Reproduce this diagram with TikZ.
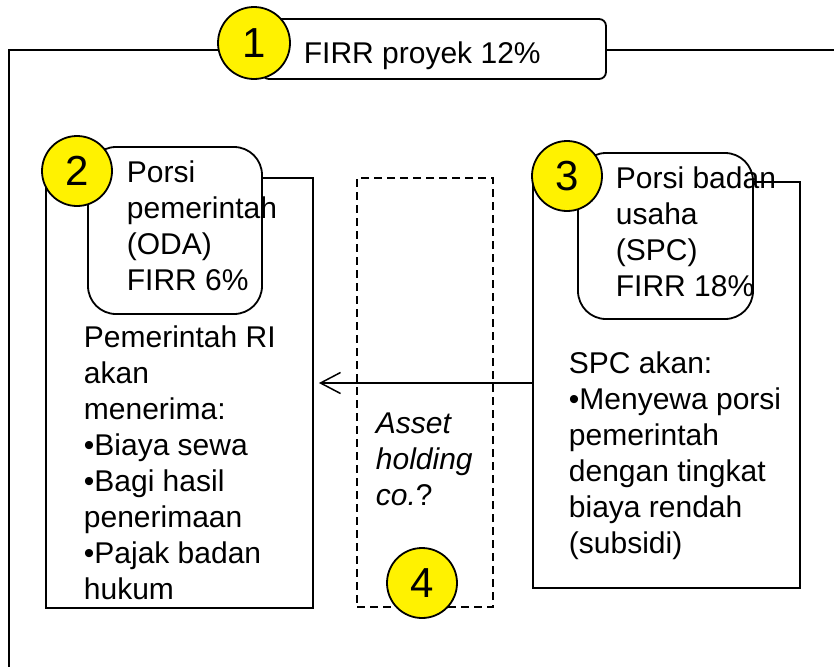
\documentclass[tikz,border=0pt]{standalone}
\usepackage{fontspec}
\setmainfont{Liberation Sans}
\usetikzlibrary{arrows.meta}
\begin{document}
\begin{tikzpicture}[x=1pt,y=-1pt,
  line width=1.8pt,
  txt/.style={inner sep=0pt,align=left,font=\fontsize{30}{36}\selectfont},
  num/.style={circle,draw=black,fill=yellow,minimum size=70pt,inner sep=0pt,
              font=\fontsize{42}{42}\selectfont},
  rbox/.style={draw=black,fill=white,rounded corners=28pt,inner sep=0pt},
  sbox/.style={draw=black,fill=white,inner sep=0pt},
  dbox/.style={draw=black,dash pattern=on 8pt off 5pt,line width=1.5pt,inner sep=0pt},
  arr/.style={-{Straight Barb[length=20pt,width=21pt]}}
]
\path[use as bounding box] (0,0) rectangle (834,667);
% outer frame
\draw (834,50) -| (9,667);
% top box 1
\node[draw=black,fill=white,rounded corners=7pt,inner sep=0pt,minimum width=344pt,minimum height=60pt] (b1) at (434,49) {};
\node[txt,anchor=base west] (t1) at (303,63) {FIRR proyek 12\%};
\node[num,minimum width=72pt] (c1) at (254,43) {1};
% left box
\node[sbox,minimum width=267pt,minimum height=430pt] (lbox) at (179.5,393) {};
\node[rbox,minimum width=174pt,minimum height=167pt] (lin) at (175,230.5) {};
\node[txt,anchor=north west] (ltop) at (126,158) {\rule{0pt}{24pt}Porsi\\pemerintah\\(ODA)\\FIRR 6\%};
\node[txt,anchor=north west] (lbot) at (83,323) {\rule{0pt}{24pt}Pemerintah RI\\akan\\menerima:\\•Biaya sewa\\•Bagi hasil\\penerimaan\\•Pajak badan\\hukum};
\node[num] (c2) at (77,171) {2};
% right box
\node[sbox,minimum width=267pt,minimum height=406pt] (rbx) at (666.5,385) {};
\node[rbox,minimum width=175pt,minimum height=166pt] (rin) at (665.5,236) {};
\node[txt,anchor=north west] (rtop) at (615,164) {\rule{0pt}{24pt}Porsi badan\\usaha\\(SPC)\\FIRR 18\%};
\node[txt,anchor=north west] (rbot) at (568,349) {\rule{0pt}{24pt}SPC akan:\\•Menyewa porsi\\pemerintah\\dengan tingkat\\biaya rendah\\(subsidi)};
\node[num] (c3) at (567,176) {3};
% dashed box
\node[dbox,minimum width=136pt,minimum height=429pt] (dbx) at (425,392.5) {};
\node[txt,anchor=north west] (dtx) at (375,409) {\rule{0pt}{24pt}\textit{Asset}\\\textit{holding}\\\textit{co.}?};
\node[num] (c4) at (422,583) {4};
% arrow
\draw[arr,line width=1.5pt,shorten >=5pt] ([yshift=2pt]rbx.west) -- ([yshift=2pt]rbx.west -| lbox.east);
\end{tikzpicture}
\end{document}
